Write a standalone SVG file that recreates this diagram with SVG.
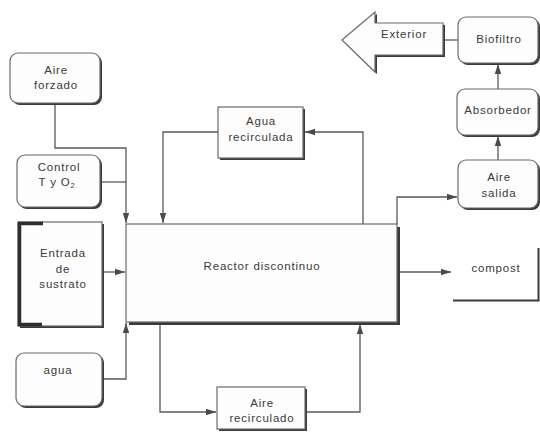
<svg xmlns="http://www.w3.org/2000/svg" width="540" height="438" viewBox="0 0 540 438">
  <style>
    .box { fill: #fdfdfd; stroke: #6a6a6a; stroke-width: 1.2; }
    .shadow { fill: #3a3a3a; }
    .lbl { font-family: "Liberation Sans", Arial, sans-serif; font-size: 11.5px; letter-spacing: 0.8px; fill: #3a3a3a; text-anchor: middle; }
    .wire { fill: none; stroke: #5a5a5a; stroke-width: 1.3; }
  </style>
  <defs>
    <marker id="arr" markerUnits="userSpaceOnUse" markerWidth="12" markerHeight="10" refX="10" refY="4" orient="auto">
      <path d="M0,0.8 L10,4 L0,7.2 Z" fill="#4a4a4a"/>
    </marker>
  </defs>

  <rect width="540" height="438" fill="#ffffff"/>

  <!-- connectors -->
  <g id="connectors">
    <path class="wire" d="M55 103 V148 H126 V223" marker-end="url(#arr)"/>
    <path class="wire" d="M100 182 H126"/>
    <path class="wire" d="M218 132 H163 V223" marker-end="url(#arr)"/>
    <path class="wire" d="M363 224 V132 H305" marker-end="url(#arr)"/>
    <path class="wire" d="M103 272 H125" marker-end="url(#arr)"/>
    <path class="wire" d="M103 379 H126 V323" marker-end="url(#arr)"/>
    <path class="wire" d="M160 324 V412 H216" marker-end="url(#arr)"/>
    <path class="wire" d="M307 412 H360 V324" marker-end="url(#arr)"/>
    <path class="wire" d="M397 224 V197 H457" marker-end="url(#arr)"/>
    <path class="wire" d="M399 272 H451" marker-end="url(#arr)"/>
    <path class="wire" d="M498 160 V136" marker-end="url(#arr)"/>
    <path class="wire" d="M498 89 V64" marker-end="url(#arr)"/>
    <path class="wire" d="M458 40 H444"/>
  </g>

  <!-- reactor -->
  <g id="reactor">
    <rect class="shadow" x="129" y="227" width="271" height="98"/>
    <rect class="box" x="126" y="224" width="271" height="98" stroke-width="1"/>
    <text class="lbl" x="262" y="270">Reactor discontinuo</text>
  </g>

  <!-- aire forzado -->
  <g id="aire-forzado">
    <rect class="shadow" x="12" y="55" width="90" height="50" rx="8"/>
    <rect class="box" x="10" y="53" width="90" height="50" rx="8"/>
    <text class="lbl" x="56" y="74">Aire</text>
    <text class="lbl" x="56" y="89">forzado</text>
  </g>

  <!-- control -->
  <g id="control">
    <rect class="shadow" x="19" y="157" width="83" height="52" rx="8"/>
    <rect class="box" x="17" y="155" width="83" height="52" rx="8"/>
    <text class="lbl" x="59" y="171">Control</text>
    <text class="lbl" x="57" y="186">T y O<tspan font-size="7.5" dy="2">2</tspan></text>
  </g>

  <!-- entrada de sustrato -->
  <g id="entrada">
    <rect class="shadow" x="20" y="224" width="84" height="104"/>
    <rect class="box" x="18" y="222" width="84" height="104" stroke-width="1"/>
    <path d="M43 223.5 H19.5 V324.5 H42" fill="none" stroke="#2e2e2e" stroke-width="3.5"/>
    <text class="lbl" x="63" y="257">Entrada</text>
    <text class="lbl" x="63" y="273">de</text>
    <text class="lbl" x="63" y="288">sustrato</text>
  </g>

  <!-- agua -->
  <g id="agua">
    <rect class="shadow" x="18" y="355" width="86" height="53" rx="8"/>
    <rect class="box" x="16" y="353" width="86" height="53" rx="8"/>
    <text class="lbl" x="58" y="374">agua</text>
  </g>

  <!-- agua recirculada -->
  <g id="agua-recirculada">
    <rect class="shadow" x="220" y="109" width="85" height="51"/>
    <rect class="box" x="218" y="107" width="85" height="51" stroke-width="1"/>
    <text class="lbl" x="261" y="125">Agua</text>
    <text class="lbl" x="261" y="141">recirculada</text>
  </g>

  <!-- aire recirculado -->
  <g id="aire-recirculado">
    <rect class="shadow" x="219" y="389" width="88" height="42"/>
    <rect class="box" x="217" y="387" width="88" height="42" stroke-width="1"/>
    <text class="lbl" x="262" y="407">Aire</text>
    <text class="lbl" x="262" y="422">recirculado</text>
  </g>

  <!-- aire salida -->
  <g id="aire-salida">
    <rect class="shadow" x="460" y="162" width="80" height="48" rx="8"/>
    <rect class="box" x="458" y="160" width="80" height="48" rx="8"/>
    <text class="lbl" x="499" y="181">Aire</text>
    <text class="lbl" x="499" y="197">salida</text>
  </g>

  <!-- absorbedor -->
  <g id="absorbedor">
    <rect class="shadow" x="459" y="91" width="81" height="46" rx="8"/>
    <rect class="box" x="457" y="89" width="81" height="46" rx="8"/>
    <text class="lbl" x="498" y="114">Absorbedor</text>
  </g>

  <!-- biofiltro -->
  <g id="biofiltro">
    <rect class="shadow" x="460" y="19" width="80" height="46" rx="8"/>
    <rect class="box" x="458" y="17" width="80" height="46" rx="8"/>
    <text class="lbl" x="499" y="43">Biofiltro</text>
  </g>

  <!-- exterior (block arrow) -->
  <g id="exterior">
    <polygon class="shadow" points="344,42 377,14 377,25 445,25 445,57 377,57 377,74"/>
    <polygon class="box" points="342,40 375,12 375,23 443,23 443,55 375,55 375,72" stroke-width="1"/>
    <text class="lbl" x="404" y="38">Exterior</text>
  </g>

  <!-- compost -->
  <g id="compost">
    <path d="M453 300.5 H538.5 V248" fill="none" stroke="#3a3a3a" stroke-width="2"/>
    <text class="lbl" x="496" y="272">compost</text>
  </g>
</svg>
